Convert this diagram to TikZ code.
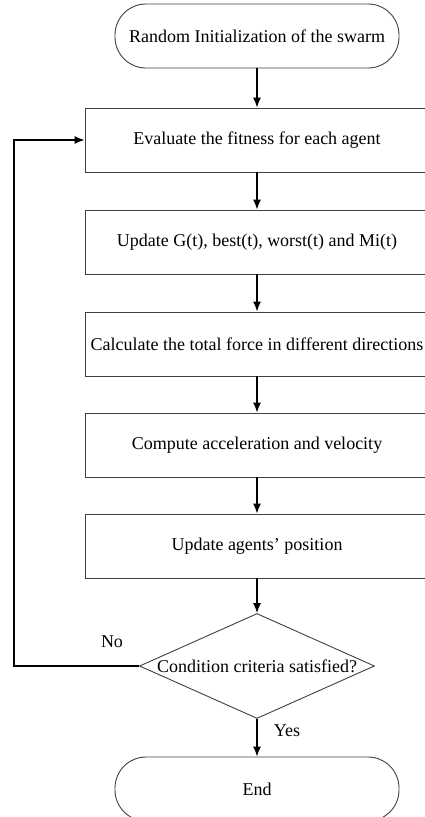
\documentclass[tikz,border=0pt]{standalone}
\usepackage{fontspec}
\setmainfont{Liberation Serif}
\usetikzlibrary{shapes.geometric,arrows.meta}
\begin{document}
\begin{tikzpicture}[x=1pt,y=-1pt,
  every node/.style={font=\fontsize{18}{21}\selectfont},
  procbox/.style={draw=black!75,line width=0.9pt,rectangle,minimum width=344pt,minimum height=64pt,inner sep=0pt},
  termbox/.style={draw=black!75,line width=0.9pt,rectangle,rounded corners=31pt,minimum width=284pt,minimum height=64pt,inner sep=0pt},
  decision/.style={draw=black!75,line width=0.9pt,diamond,aspect=2.24,minimum width=235pt,minimum height=105pt,inner sep=0pt},
  flow/.style={line width=1.3pt,-{Latex[length=10pt,width=8pt]}},
  lbl/.style={inner sep=0pt}]
\useasboundingbox (0,0) rectangle (425,817);
\node[termbox] (init) at (257,36) {Random Initialization of the swarm};
\node[procbox] (eval) at (257,140) {Evaluate the fitness for each agent};
\node[procbox] (upd) at (257,242) {Update G(t), best(t), worst(t) and Mi(t)};
\node[procbox] (force) at (257,344) {Calculate the total force in different directions};
\node[procbox] (acc) at (257,445) {Compute acceleration and velocity};
\node[procbox] (pos) at (257,546) {Update agents' position};
\node[decision] (cond) at (257,666) {Condition criteria satisfied?};
\node[termbox] (end) at (257,789) {End};
\coordinate (loopb) at (14,666);
\coordinate (loopt) at (14,140);
\draw[flow] (init) -- (eval);
\draw[flow] (eval) -- (upd);
\draw[flow] (upd) -- (force);
\draw[flow] (force) -- (acc);
\draw[flow] (acc) -- (pos);
\draw[flow] (pos) -- (cond);
\draw[flow] (cond) -- (end);
\draw[flow] (cond.west) -- (loopb) -- (loopt) -- (eval.west);
\node[lbl] (no) at (112,642) {No};
\node[lbl] (yes) at (287,731) {Yes};
\end{tikzpicture}
\end{document}
